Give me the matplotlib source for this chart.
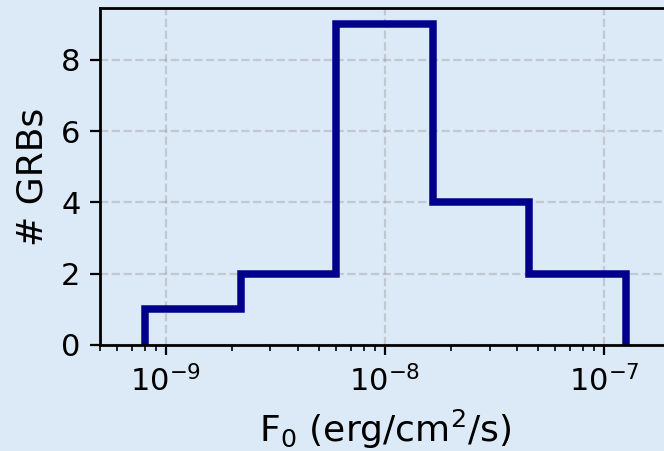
import numpy as np
import matplotlib.pyplot as plt

# bin edges (erg/cm^2/s) and counts
bin_edges = [8.0e-10, 2.2e-9, 6.0e-9, 1.65e-8, 4.55e-8, 1.26e-7]
counts = [1, 2, 9, 4, 2]

bg = "#dce9f6"

fig = plt.figure(figsize=(3.32, 2.255), dpi=200, facecolor=bg)
ax = fig.add_axes([100 / 664, 106 / 451, 570 / 664, 337 / 451])
ax.set_facecolor(bg)

ax.stairs(counts, bin_edges, color="darkblue", linewidth=2.7)
ax.set_xscale("log")
ax.set_xlim(5e-10, 2e-7)
ax.set_ylim(0, 9.45)
ax.set_yticks([0, 2, 4, 6, 8])

ax.grid(True, color="gray", alpha=0.3, linestyle="--", linewidth=0.8)
ax.set_axisbelow(True)
for sp in ax.spines.values():
	sp.set_linewidth(1.0)

ax.set_xlabel(r"F$_0$ (erg/cm$^2$/s)", fontsize=13)
ax.set_ylabel("# GRBs", fontsize=13)
ax.tick_params(labelsize=11)

fig.savefig("out.png", dpi=200, facecolor=bg)
